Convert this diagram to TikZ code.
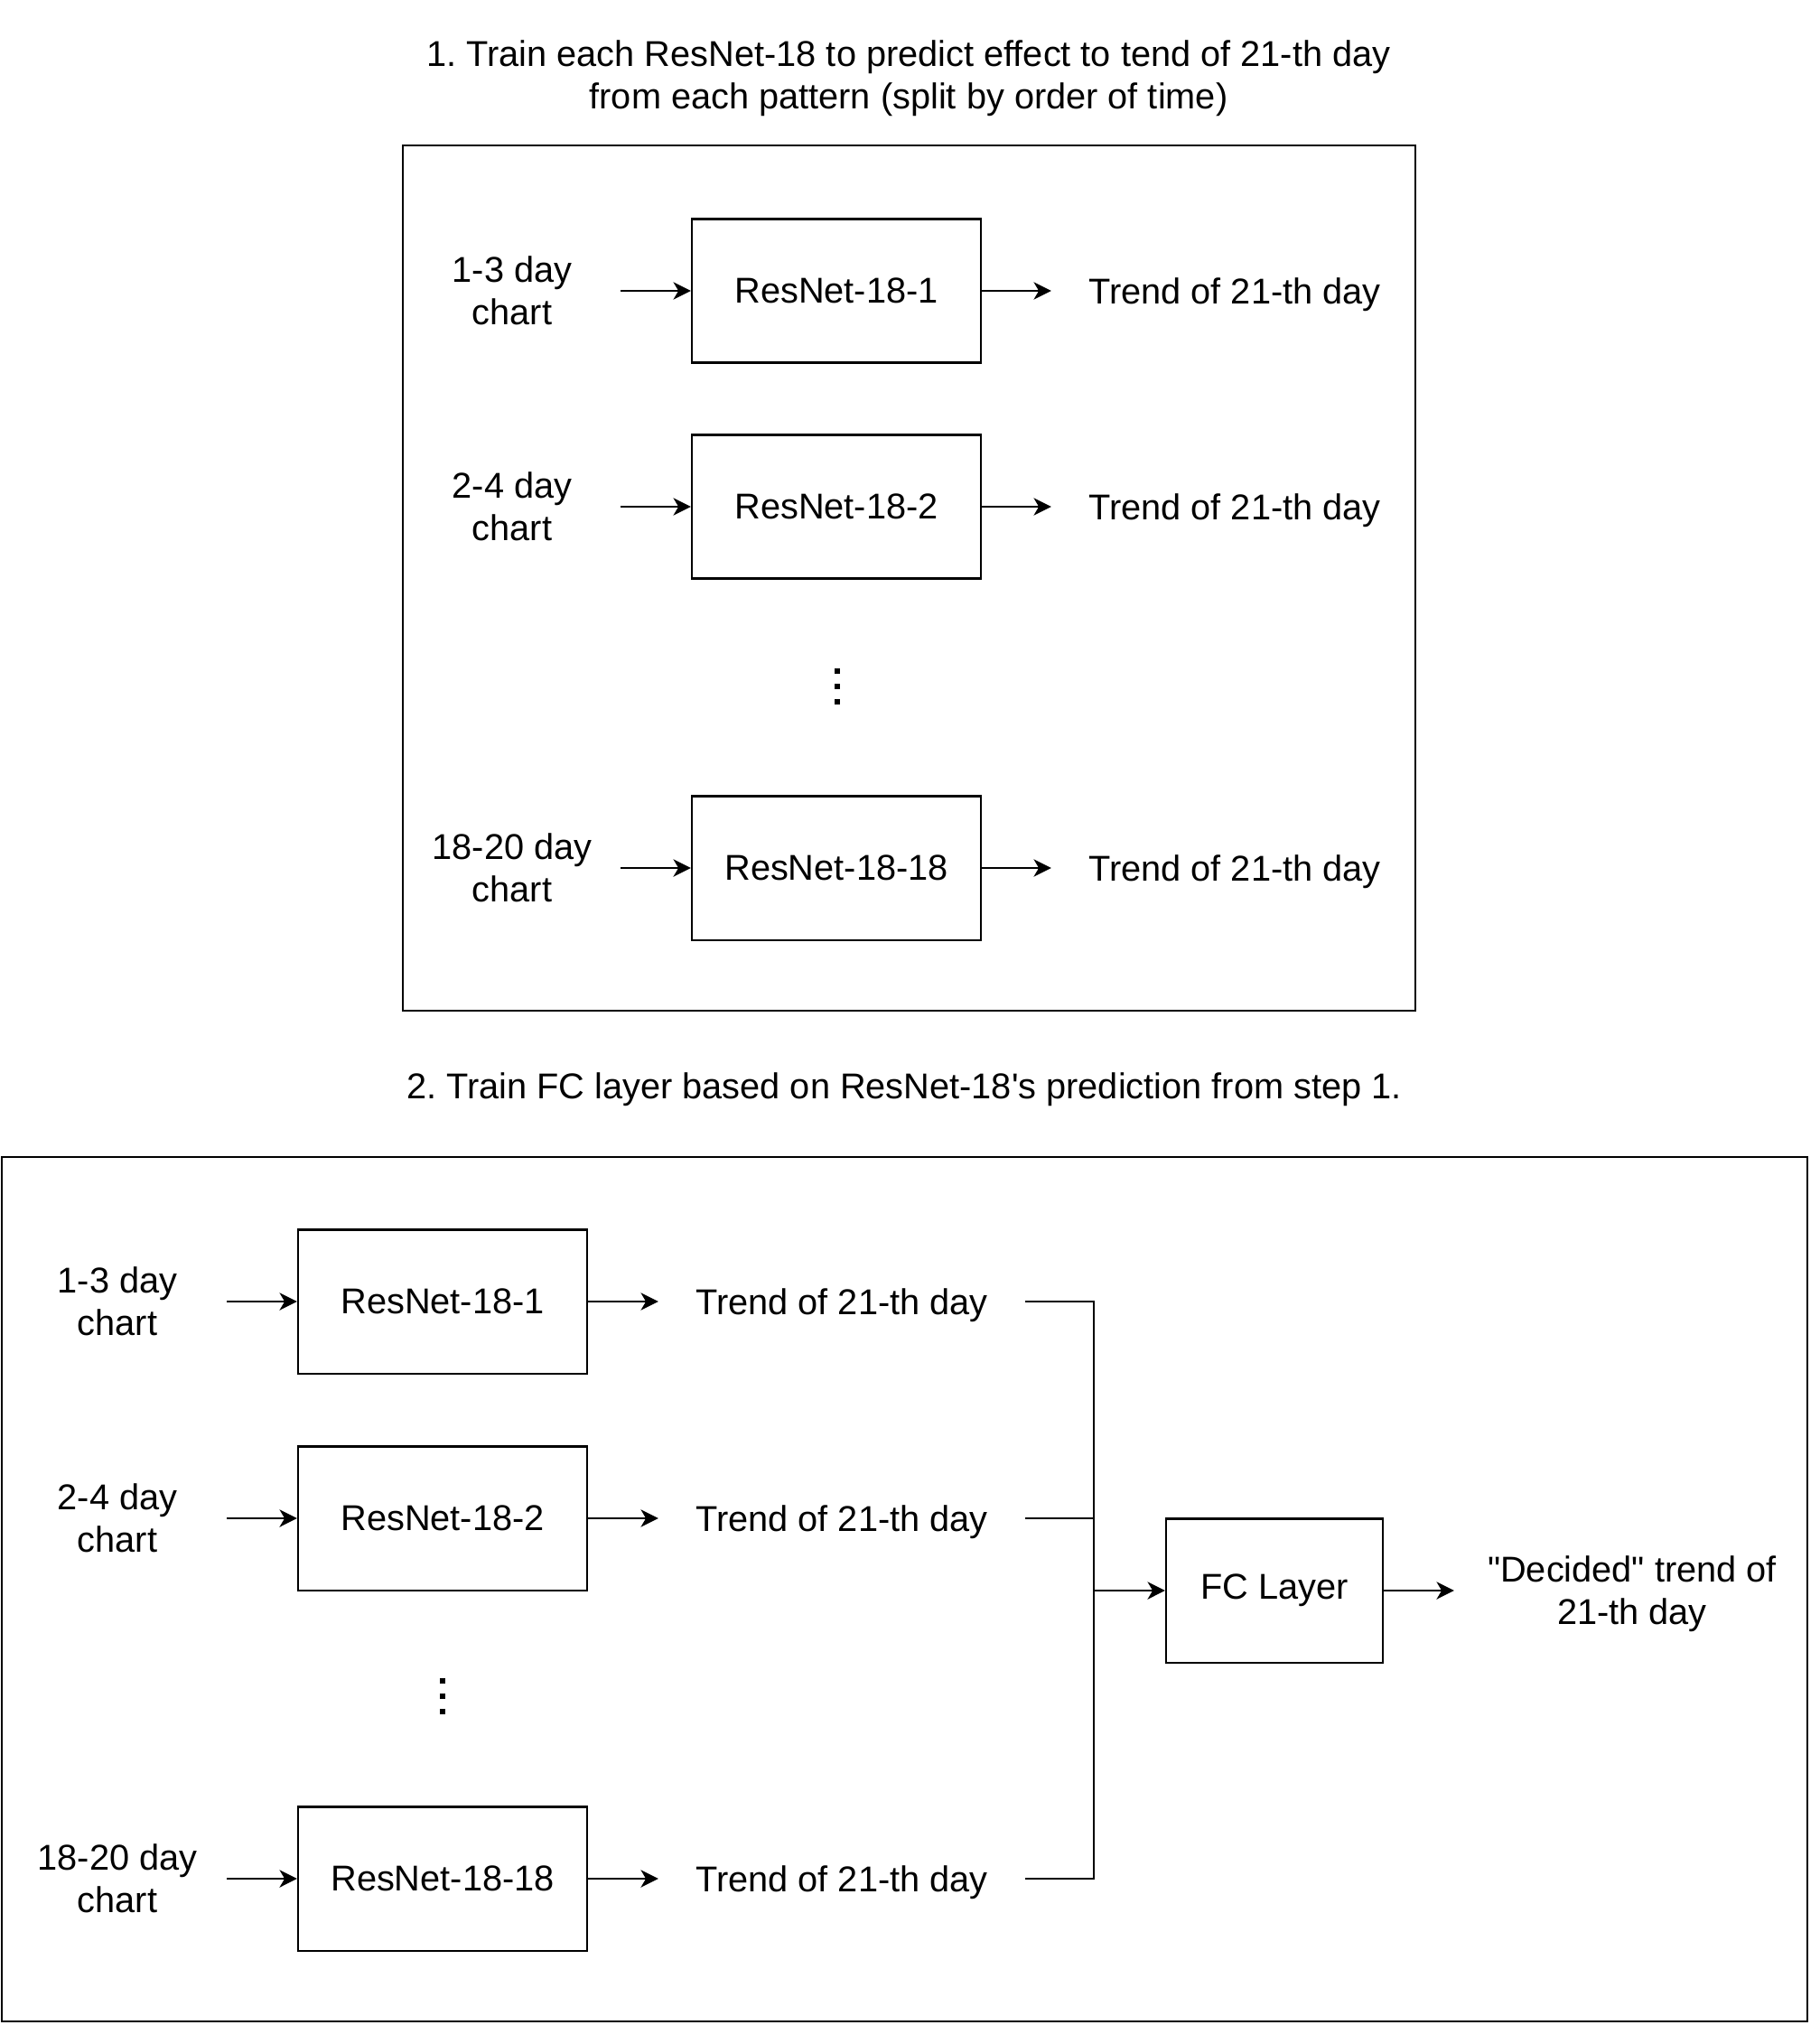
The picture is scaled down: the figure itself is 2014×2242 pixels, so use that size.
\documentclass[tikz,border=0pt]{standalone}
\usepackage{fontspec}
\setmainfont{Liberation Sans}[Ligatures = TeXOff]
\frenchspacing
\usetikzlibrary{arrows.meta}
\tikzset{arr/.style = {-{Stealth[length = 5.5pt, width = 5.5pt, inset = 1.6pt]}}}
\tikzset{netbox/.style = {draw, rectangle, minimum width = 3.2cm, minimum height = 1.59cm}}
\tikzset{lbl/.style = {align = center, inner sep = 0}}
\tikzset{outlbl/.style = {lbl, text depth = 0pt}}
\tikzset{sqdot/.style = {fill, rectangle, inner sep = 0, minimum size = 1.5pt}}

\begin{document}
\begin{tikzpicture}[x = 0.01cm, y = -0.01cm, line width = 0.6pt,
                    font = \fontsize{11.3}{13.4}\selectfont]
      \useasboundingbox (0, 0) rectangle (2014, 2242);

      % step 1
      \node (title1) at (1006, 87) [lbl] {1. Train each ResNet-18 to predict effect to tend of 21-th day\\from each pattern (split by order of time)};
      \draw (446, 161) rectangle (1567, 1119);

      \node (in1) at (567, 322) [lbl, minimum width = 2.38cm] {1-3 day\\chart};
      \node (in2) at (567, 561) [lbl, minimum width = 2.38cm] {2-4 day\\chart};
      \node (in3) at (567, 961) [lbl, minimum width = 2.38cm] {18-20 day\\chart};
      \node (net1) at (926, 322) [netbox] {ResNet-18-1};
      \node (net2) at (926, 561) [netbox] {ResNet-18-2};
      \node (net3) at (926, 961) [netbox] {ResNet-18-18};
      \node (out1) at (1367, 322) [outlbl, minimum width = 4.04cm] {Trend of 21-th day};
      \node (out2) at (1367, 561) [outlbl, minimum width = 4.04cm] {Trend of 21-th day};
      \node (out3) at (1367, 961) [outlbl, minimum width = 4.04cm] {Trend of 21-th day};
      \draw [arr] (in1) -- (net1);
      \draw [arr] (in2) -- (net2);
      \draw [arr] (in3) -- (net3);
      \draw [arr] (net1) -- (out1);
      \draw [arr] (net2) -- (out2);
      \draw [arr] (net3) -- (out3);
      \node (dotA1) at (927, 743) [sqdot] {};
      \node (dotA2) at (927, 760) [sqdot] {};
      \node (dotA3) at (927, 777) [sqdot] {};

      % step 2
      \node (title2) at (1001, 1206) [lbl] {2. Train FC layer based on ResNet-18's prediction from step 1.};
      \draw (2, 1281) rectangle (2001, 2238);

      \node (bin1) at (130, 1441) [lbl, minimum width = 2.4cm] {1-3 day\\chart};
      \node (bin2) at (130, 1681) [lbl, minimum width = 2.4cm] {2-4 day\\chart};
      \node (bin3) at (130, 2080) [lbl, minimum width = 2.4cm] {18-20 day\\chart};
      \node (bnet1) at (490, 1441) [netbox] {ResNet-18-1};
      \node (bnet2) at (490, 1681) [netbox] {ResNet-18-2};
      \node (bnet3) at (490, 2080) [netbox] {ResNet-18-18};
      \node (bout1) at (932, 1441) [outlbl, minimum width = 4.04cm] {Trend of 21-th day};
      \node (bout2) at (932, 1681) [outlbl, minimum width = 4.04cm] {Trend of 21-th day};
      \node (bout3) at (932, 2080) [outlbl, minimum width = 4.04cm] {Trend of 21-th day};
      \draw [arr] (bin1) -- (bnet1);
      \draw [arr] (bin2) -- (bnet2);
      \draw [arr] (bin3) -- (bnet3);
      \draw [arr] (bnet1) -- (bout1);
      \draw [arr] (bnet2) -- (bout2);
      \draw [arr] (bnet3) -- (bout3);
      \node (dotB1) at (490, 1861) [sqdot] {};
      \node (dotB2) at (490, 1878) [sqdot] {};
      \node (dotB3) at (490, 1895) [sqdot] {};

      \node (fc) at (1411, 1761) [netbox, minimum width = 2.4cm] {FC Layer};
      \node (final) at (1807, 1761) [outlbl, minimum width = 3.92cm] {"Decided" trend of\\21-th day};
      \coordinate (bus) at (1211, 1761);
      \draw (bout1.east) -| (bus);
      \draw (bout3.east) -| (bus);
      \draw (bout2.east) -- (bout2.east -| bus);
      \draw [arr] (bus) -- (fc);
      \draw [arr] (fc) -- (final);
\end{tikzpicture}
\end{document}
